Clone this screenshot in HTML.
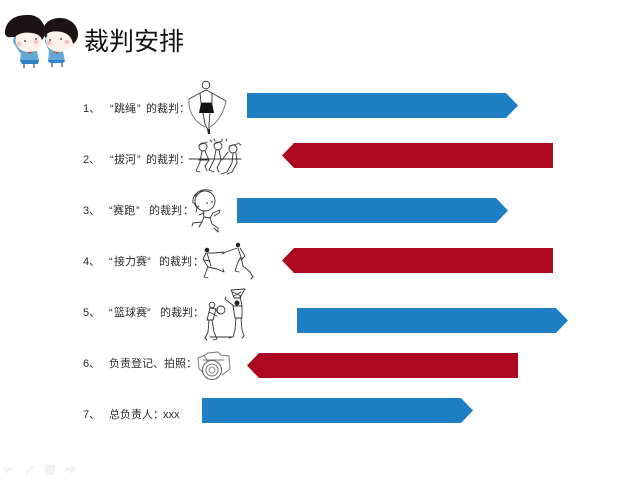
<!DOCTYPE html>
<html lang="zh">
<head>
<meta charset="utf-8">
<style>
html,body{margin:0;padding:0;background:#fff;width:635px;height:484px;overflow:hidden}
svg{display:block}
text{font-family:"Liberation Sans","Noto Sans CJK SC",sans-serif;fill:#222}
.l text{font-size:11px;fill:#2c2c2c}
.f{fill:none;stroke:#333;stroke-width:.9;stroke-linecap:round;stroke-linejoin:round}
.g{fill:none;stroke:#777;stroke-width:1;stroke-linecap:round;stroke-linejoin:round}
.w{fill:#fff;stroke:#333;stroke-width:.9}
.b{filter:blur(.35px)}
</style>
</head>
<body>
<svg width="635" height="484" viewBox="0 0 635 484" xmlns="http://www.w3.org/2000/svg">
<rect width="635" height="484" fill="#fff"/>

<!-- mascots -->
<g class="b">
  <path d="M14 36 L13 42 L20 53 L24 50 L18 38 Z" fill="#5ea6d3"/>
  <path d="M46 34 L45 42 L50 53 L54 50 L49 36 Z" fill="#5ea6d3"/>
  <path d="M21 51 H37 L39 62 H20 Z" fill="#63a9d6"/>
  <path d="M49 51 H63 L65 62 H48 Z" fill="#63a9d6"/>
  <path d="M20 60 H39 L38 64 H22 Z" fill="#2d84c8"/>
  <path d="M48 60 H65 L63 63 H50 Z" fill="#2d84c8"/>
  <path d="M25 50 L30 54 L35 50 L30 52 Z" fill="#d33a2c"/>
  <path d="M52 50 L57 54 L62 50 L57 52 Z" fill="#d33a2c"/>
  <path d="M24 64 V68 M34 64 V68 M52 63 V67 M62 63 V67" stroke="#7b6a66" stroke-width="1.500"/>
  <ellipse cx="29" cy="41" rx="13.500" ry="11" fill="#fdf1ea"/>
  <ellipse cx="59" cy="41" rx="13" ry="11" fill="#fdf1ea"/>
  <path d="M5 33 C5 22 14 15 26 15 C36 14 44 20 45 30 C45 34 44 38 42 40 C41 36 38 34 32 33 C25 32 19 33 15 37 L11 37 C8 38 5 36 5 33 Z" fill="#1c1211"/>
  <path d="M43 31 C43 23 51 18 60 18 C71 18 78 26 78 34 C78 38 76 42 73 44 C72 38 69 34 62 32 C56 31 50 31 47 34 L46 38 C44 36 43 34 43 31 Z" fill="#1c1211"/>
  <circle cx="25" cy="41" r=".9" fill="#222"/><circle cx="36" cy="39" r=".9" fill="#222"/>
  <circle cx="50" cy="40" r=".9" fill="#222"/><circle cx="61" cy="39" r=".9" fill="#222"/>
  <ellipse cx="19" cy="44" rx="2.500" ry="2.200" fill="#f7c4c4"/><ellipse cx="36" cy="42" rx="2.500" ry="2.200" fill="#f7c4c4"/>
  <ellipse cx="49" cy="43" rx="2.500" ry="2.200" fill="#f7c4c4"/><ellipse cx="67" cy="42" rx="2.500" ry="2.200" fill="#f7c4c4"/>
</g>

<text x="84" y="50" font-size="25" style="fill:#111">裁判安排</text>

<!-- arrows -->
<polygon points="247,93 506,93 518,105.500 506,118 247,118" fill="#1f7fc4"/>
<polygon points="553,143 294,143 282,155.500 294,168 553,168" fill="#ac071f"/>
<polygon points="237,198 496,198 508,210.500 496,223 237,223" fill="#1f7fc4"/>
<polygon points="553,248 294,248 282,260.500 294,273 553,273" fill="#ac071f"/>
<polygon points="297,308 556,308 568,320.500 556,333 297,333" fill="#1f7fc4"/>
<polygon points="518,353 259,353 247,365.500 259,378 518,378" fill="#ac071f"/>
<polygon points="202,398 461,398 473,410.500 461,423 202,423" fill="#1f7fc4"/>

<!-- labels -->
<g class="l b">
<text x="83" y="112">1、</text><text x="110" y="112">“</text><text x="114" y="112">跳绳</text><text x="137" y="112">”</text><text x="146" y="112">的裁判</text><text x="179" y="112">：</text>
<text x="83" y="163">2、</text><text x="110" y="163">“</text><text x="114" y="163">拔河</text><text x="137" y="163">”</text><text x="146" y="163">的裁判</text><text x="179" y="163">：</text>
<text x="83" y="214">3、</text><text x="109" y="214">“</text><text x="113" y="214">赛跑</text><text x="136" y="214">”</text><text x="149" y="214">的裁判</text><text x="183" y="214">：</text>
<text x="83" y="265">4、</text><text x="109" y="265">“</text><text x="114" y="265">接力赛</text><text x="147" y="265">”</text><text x="159" y="265">的裁判</text><text x="193" y="265">：</text>
<text x="83" y="316">5、</text><text x="109" y="316">“</text><text x="114" y="316">篮球赛</text><text x="147" y="316">”</text><text x="160" y="316">的裁判</text><text x="193" y="316">：</text>
<text x="83" y="367">6、</text><text x="109" y="367">负责登记、拍照</text><text x="186" y="367">：</text>
<text x="83" y="418">7、</text><text x="109" y="418">总负责人</text><text x="153" y="418">：</text><text x="163" y="418">xxx</text>
</g>

<!-- jump rope -->
<g class="b">
  <circle class="f" cx="206" cy="85" r="3.800"/>
  <path class="f" d="M200 93 L206 90 L212 93 L212 103 H201 Z"/>
  <path class="f" d="M200 93 L189 99 M212 93 L226 101"/>
  <path d="M201 103 H212 L214 113 H199 Z" fill="#111"/>
  <path class="f" d="M203 113 L205 124 L208 130 M210 113 L209 124 L209 133"/>
  <path d="M207 129 L210 129 L210 134 L208 134 Z" fill="#222"/>
  <path class="g" d="M189 100 C188 110 194 122 205 127 M226 101 C224 112 218 122 210 127"/>
</g>

<!-- tug of war -->
<g class="b">
  <path class="f" d="M189 159 H241"/>
  <circle class="w" cx="203" cy="147" r="4"/><circle class="w" cx="218" cy="146" r="4"/><circle class="w" cx="233" cy="149" r="4"/>
  <path class="f" d="M199 145 L207 142 M214 144 L222 141 M229 146 L237 144"/>
  <path class="f" d="M205 151 L209 160 L205 166 L207 171 M202 151 L200 162 L196 171 L200 172 M209 160 L199 160"/>
  <path class="f" d="M219 150 L221 160 L217 168 L219 172 M216 150 L214 160 L209 170 L214 172"/>
  <path class="f" d="M233 153 L232 163 L227 172 L221 174 M236 153 L237 163 L232 172 L227 174 M228 152 L222 160"/>
  <path class="f" d="M210 140 L212 142 M214 139 L215 141 M222 139 V141 M227 139 L226 141 M238 143 L241 145"/>
</g>

<!-- runner -->
<g class="b">
  <ellipse class="w" cx="205" cy="201" rx="10" ry="10"/>
  <path class="f" d="M193 203 C192 193 202 187 212 191 M194 203 L197 208 L199 206 M195 196 L203 190"/>
  <path class="f" d="M197 208 L196 212"/>
  <circle cx="207" cy="203" r=".8" fill="#222"/><circle cx="212" cy="202" r=".8" fill="#222"/>
  <path class="f" d="M203 211 L204 217 L210 218 L213 213 L220 210 L219 213 L214 216 M204 213 L199 215"/>
  <path class="f" d="M204 217 L202 222 L193 223 L192 226 M202 222 L199 227 M210 218 L212 224 L218 228 L218 232 L214 228"/>
</g>

<!-- relay -->
<g class="b">
  <circle cx="207" cy="250" r="2.300" fill="#222"/><circle cx="238" cy="245" r="2.200" fill="#222"/>
  <path class="f" d="M206 253 L203 259 L208 267 L204 277 L208 278 M208 267 L217 269 L224 272 L223 269"/>
  <path class="f" d="M208 253 L214 253 L224 252 M207 253 L211 266 M204 260 L210 261"/>
  <path class="f" d="M238 248 L241 257 L238 262 L235 271 L239 272 M241 257 L243 266 L250 272 L253 277 L251 279"/>
  <path class="f" d="M237 248 L226 252 L222 254 M240 248 L245 256 L241 260"/>
</g>

<!-- basketball -->
<g class="b">
  <path class="f" d="M231 290 L245 289 L243 292 L240 298 H234 L232 292 Z M233 292 L241 296 M241 292 L234 296"/>
  <circle class="f" cx="221" cy="310" r="4"/>
  <circle class="w" cx="212" cy="305" r="2.800"/>
  <path class="f" d="M210 308 L207 320 H213 L216 309 Z M215 309 L219 314 M209 312 L217 316"/>
  <path class="f" d="M209 320 L208 332 L205 338 L207 340 M212 320 L214 332 L217 339 L213 340"/>
  <circle cx="237" cy="303" r="2.500" fill="#222"/>
  <path class="f" d="M233 306 H242 L242 318 H235 Z M234 306 L225 299 L226 297 M242 306 L240 296"/>
  <path class="f" d="M236 318 L235 330 L233 337 L229 338 M241 318 L242 330 L244 336 L242 338"/>
  <path class="f" d="M210 337 H232" stroke-width=".6"/>
</g>

<!-- camera -->
<g class="b">
  <path class="g" d="M198 358 L205 355 L208 353 L218 352 L221 355 L229 356 L230 369 L222 375 M198 358 L199 369 L203 372 M203 360 H224 M204 355 L208 362"/>
  <circle cx="212" cy="370" r="9.500" fill="#fff" stroke="#666" stroke-width="1.100"/>
  <circle cx="212" cy="370" r="6" fill="none" stroke="#777" stroke-width="1"/>
  <circle cx="212" cy="370" r="3" fill="none" stroke="#888" stroke-width="1"/>
</g>

<!-- presentation controls -->
<g fill="#f3f3f3" class="b">
  <path d="M2 469 L8 464 V467 H13 V471 H8 V474 Z"/>
  <path d="M24 475 L33 465 L35 466 L26 476 Z"/>
  <rect x="45" y="465" width="10" height="10"/>
  <path d="M76 469 L70 464 V467 H65 V471 H70 V474 Z"/>
</g>
</svg>
</body>
</html>
